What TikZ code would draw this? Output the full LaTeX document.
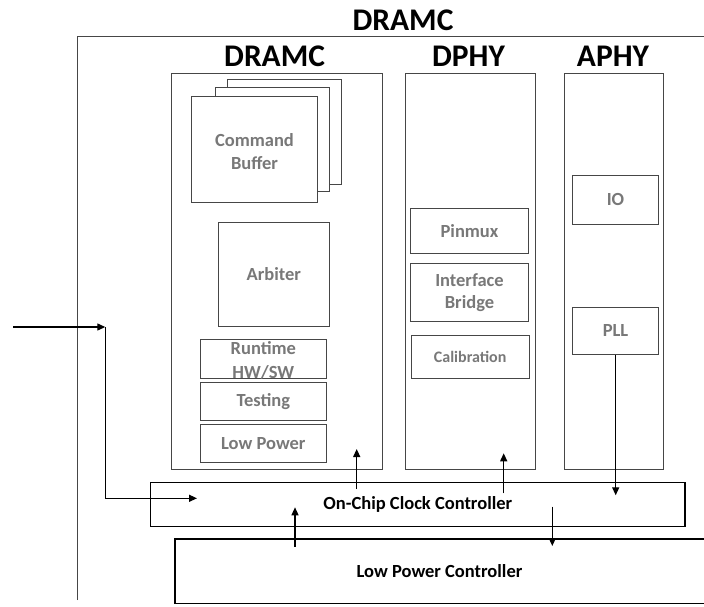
\documentclass[tikz,border=0pt]{standalone}
\usepackage{fontspec}
\setmainfont{Carlito}
\usetikzlibrary{arrows.meta,calc}
\definecolor{txtgray}{RGB}{120,120,120}
\definecolor{edgegray}{RGB}{70,70,70}
\begin{document}
\begin{tikzpicture}[x=1pt,y=-1pt,
  blk/.style={draw=edgegray, line width=1pt, fill=white, inner sep=0pt, align=center,
    font=\fontsize{18.5}{22.5}\selectfont\bfseries, text=txtgray},
  col/.style={draw=edgegray, line width=1pt, inner sep=0pt},
  hdr/.style={font=\fontsize{31.5}{36}\selectfont\bfseries, inner sep=0pt},
  ctrl/.style={inner sep=0pt, font=\fontsize{18.5}{22}\selectfont\bfseries},
  ctrlline/.style={draw=black, line width=1.4pt},
  arr/.style={draw=black, line width=1.3pt, -{Triangle[length=8pt,width=7pt]}},
  ln/.style={draw=black, line width=1.3pt}]
\useasboundingbox (0,0) rectangle (704,607);

% outer DRAMC frame (open on the right and bottom)
\coordinate (obl) at (77.3,600);
\coordinate (otl) at (77.3,37);
\coordinate (otr) at (704,37);
\draw[draw=edgegray, line width=1pt] (obl) -- (otl) -- (otr);
\node[hdr] (title) at (403,20) {DRAMC};

% column headers
\node[hdr] (hdramc) at (274.6,56.7) {DRAMC};
\node[hdr] (hdphy) at (468.5,56.7) {DPHY};
\node[hdr] (haphy) at (613,56.7) {APHY};

% columns
\node[col, minimum width=210.5pt, minimum height=395.5pt] (cdramc) at (276.75,271.25) {};
\node[col, minimum width=130pt, minimum height=395.5pt] (cdphy) at (470,271.25) {};
\node[col, minimum width=99.5pt, minimum height=395.5pt] (caphy) at (613.75,271.25) {};

% command buffer stack
\node[blk, minimum width=114pt, minimum height=105pt] (cb3) at (284,131.6) {};
\node[blk, minimum width=113.7pt, minimum height=104.7pt] (cb2) at (272.2,139.6) {};
\node[blk, minimum width=125.3pt, minimum height=105pt] (cb1) at (254.5,149.5) {};
\node[blk, draw=none, fill=none] (cbt) at (254.5,151.7) {Command\\Buffer};

% DRAMC blocks
\node[blk, minimum width=111pt, minimum height=104.4pt] (arb) at (273.8,274.5) {Arbiter};
\node[blk, minimum width=125.3pt, minimum height=39pt] (rt) at (263.35,358.8) {};
\node[blk, draw=none, fill=none, font=\fontsize{18.5}{24}\selectfont\bfseries] (rtt) at (263.35,360.5) {Runtime\\HW/SW};
\node[blk, minimum width=125.3pt, minimum height=37.7pt] (tst) at (263.35,401.15) {Testing};
\node[blk, minimum width=125.3pt, minimum height=38pt] (lp) at (263.35,443.3) {Low Power};

% DPHY blocks
\node[blk, minimum width=117.6pt, minimum height=45pt] (pin) at (469.5,230.8) {Pinmux};
\node[blk, minimum width=117.6pt, minimum height=58pt, font=\fontsize{18.5}{22}\selectfont\bfseries] (ib) at (469.5,292.7) {Interface\\Bridge};
\node[blk, minimum width=117.7pt, minimum height=43pt, font=\fontsize{16}{19}\selectfont\bfseries] (cal) at (470.15,356.8) {Calibration};

% APHY blocks
\node[blk, minimum width=86.4pt, minimum height=49pt] (io) at (615.5,199.8) {IO};
\node[blk, minimum width=86.4pt, minimum height=46.6pt] (pll) at (615.5,331) {PLL};

% controllers
\node[ctrl, ctrlline, minimum width=534.3pt, minimum height=44pt] (occ) at (417.85,504.3) {On-Chip Clock Controller};
\node[ctrl, minimum width=529pt, minimum height=64.3pt] (lpc) at (439.5,571.15) {Low Power Controller};
\draw[ctrlline] (lpc.north east) -- (lpc.north west) -- (lpc.south west) -- (lpc.south east);

% connectors
\coordinate (in) at (13,327);
\coordinate (c1) at (105.3,327);
\coordinate (c2) at (105.3,498.3);
\coordinate (c3) at (197,498.3);
\draw[arr] (in) -- (c1);
\draw[arr] (c1) -- (c2) -- (c3);

\coordinate (a1s) at (356.7,489);
\coordinate (a1e) at (356.7,449);
\draw[arr] (a1s) -- (a1e);

\coordinate (a2s) at (503.7,493.3);
\coordinate (a2e) at (503.7,453.3);
\draw[arr] (a2s) -- (a2e);

\coordinate (a3e) at (615.7,495.3);
\draw[arr] (pll.south -| a3e) -- (a3e);

\coordinate (a4s) at (295,546.7);
\coordinate (a4e) at (295,507.3);
\draw[arr] (a4s) -- (a4e);

\coordinate (a5s) at (552.3,506.7);
\coordinate (a5e) at (552.3,546);
\draw[arr] (a5s) -- (a5e);
\end{tikzpicture}
\end{document}
